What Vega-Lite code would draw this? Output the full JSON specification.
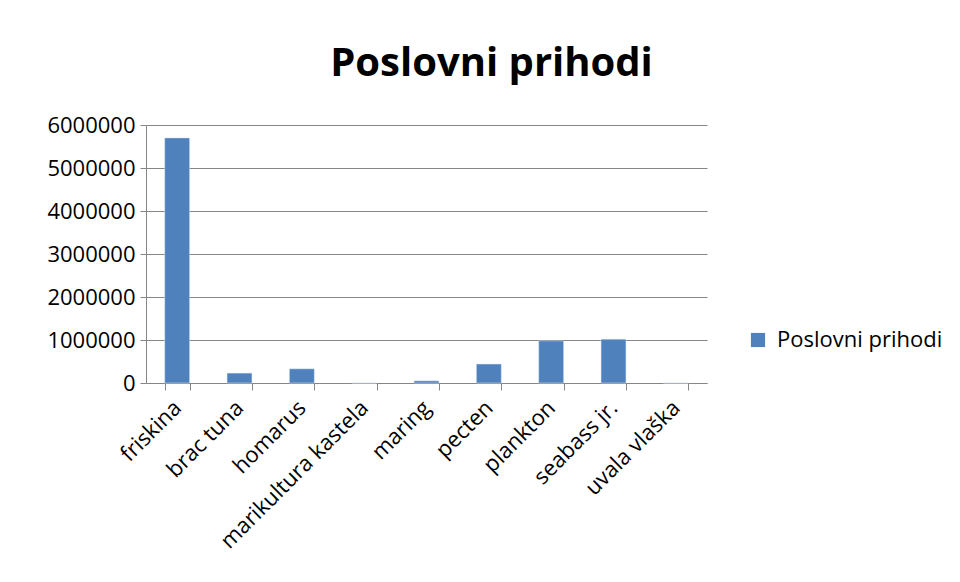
{
  "$schema": "https://vega.github.io/schema/vega-lite/v6.json",
  "autosize": "none",
  "width": 561,
  "height": 258,
  "padding": {"left": 146, "top": 125, "right": 253, "bottom": 199},
  "background": "white",
  "title": {
    "text": "Poslovni prihodi",
    "font": "Open Sans",
    "fontSize": 40,
    "fontWeight": "bold",
    "color": "#000000",
    "anchor": "middle",
    "frame": "group",
    "dx": 65,
    "offset": 30
  },
  "data": {
    "values": [
      {"firma": "friskina", "prihod": 5700000, "serija": "Poslovni prihodi"},
      {"firma": "brac tuna", "prihod": 230000, "serija": "Poslovni prihodi"},
      {"firma": "homarus", "prihod": 330000, "serija": "Poslovni prihodi"},
      {"firma": "marikultura kastela", "prihod": 0, "serija": "Poslovni prihodi"},
      {"firma": "maring", "prihod": 50000, "serija": "Poslovni prihodi"},
      {"firma": "pecten", "prihod": 440000, "serija": "Poslovni prihodi"},
      {"firma": "plankton", "prihod": 980000, "serija": "Poslovni prihodi"},
      {"firma": "seabass jr.", "prihod": 1020000, "serija": "Poslovni prihodi"},
      {"firma": "uvala vlaška", "prihod": 0, "serija": "Poslovni prihodi"}
    ]
  },
  "mark": {"type": "bar", "stroke": "#dce6f2", "strokeWidth": 0.5},
  "encoding": {
    "x": {
      "field": "firma",
      "type": "nominal",
      "sort": null,
      "scale": {"paddingInner": 0.6, "paddingOuter": 0.3},
      "axis": {
        "title": null,
        "labelAngle": -45,
        "labelAlign": "right",
        "labelBaseline": "middle",
        "labelFont": "Open Sans",
        "labelFontSize": 22,
        "labelColor": "#000000",
        "labelPadding": 14,
        "labelLimit": 400,
        "labelOverlap": false,
        "tickBand": "extent",
        "tickSize": 7,
        "tickColor": "#868686",
        "domainColor": "#868686",
        "labelOffset": 0
      }
    },
    "y": {
      "field": "prihod",
      "type": "quantitative",
      "scale": {"domain": [0, 6000000], "nice": false},
      "axis": {
        "title": null,
        "values": [0, 1000000, 2000000, 3000000, 4000000, 5000000, 6000000],
        "format": "d",
        "labelFont": "Open Sans",
        "labelFontSize": 22,
        "labelColor": "#000000",
        "labelPadding": 5,
        "labelOverlap": false,
        "tickSize": 6,
        "tickColor": "#868686",
        "domainColor": "#868686",
        "gridColor": "#868686",
        "grid": true
      }
    },
    "color": {
      "field": "serija",
      "type": "nominal",
      "scale": {"range": ["#4f81bd"]},
      "legend": {
        "title": null,
        "orient": "none",
        "legendX": 601,
        "legendY": 204,
        "symbolType": "square",
        "symbolSize": 200,
        "symbolStrokeWidth": 0,
        "labelFont": "Open Sans",
        "labelFontSize": 22,
        "labelLimit": 400,
        "labelColor": "#000000",
        "labelOffset": 8
      }
    }
  },
  "config": {"view": {"stroke": null}}
}
